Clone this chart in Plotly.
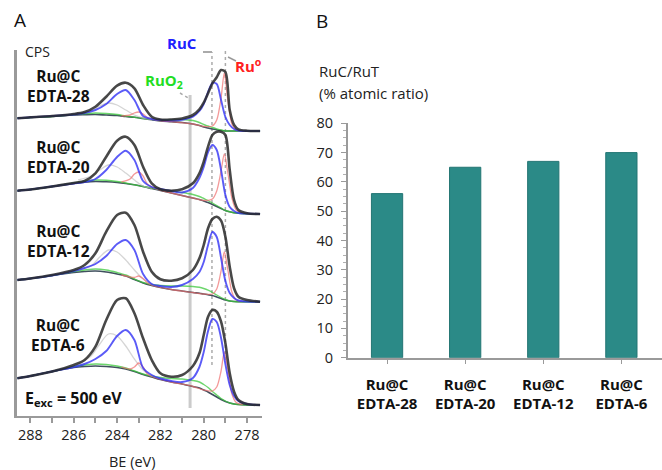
import plotly.graph_objects as go

W, H = 662, 470

# ---------------- Panel B data ----------------
samples = ["Ru@C<br>EDTA-28", "Ru@C<br>EDTA-20", "Ru@C<br>EDTA-12", "Ru@C<br>EDTA-6"]
ruc_ratio = [56, 65, 67, 70]
b_ticks = [0, 10, 20, 30, 40, 50, 60, 70, 80]

# ---------------- Panel A data (binding energy grid, eV) ----------------
be = [288.6, 288, 287, 286, 285.5, 285, 284.5, 284, 283.6, 283.2, 282.8, 282.4, 282,
      281.5, 281, 280.5, 280.2, 280, 279.8, 279.6, 279.4, 279.2, 279.0, 278.8, 278.6,
      278.4, 278, 277.4]
be_red = [283.8, 283.4, 283.2, 283.0, 282.8, 282.6, 282.2, 281.5, 280.5, 280.0, 279.6,
          279.4, 279.2, 279.05, 278.9, 278.7, 278.5, 278.2]
be_gray = [285.8, 285.2, 284.8, 284.4, 284.0, 283.6, 283.2, 282.8, 282.4]

# EDTA-28 (top)
black_28 = [297.7, 298.7, 300, 302, 304, 309.3, 319.3, 330.3, 333.3, 327.7, 311, 299.3, 296.5,
            296.5, 297.5, 301, 306.7, 313.3, 322.7, 332.7, 338.7, 346, 344, 306, 291, 286.7, 285.3, 285]
blue_28 = [297.7, 298.7, 300, 301.5, 303, 306, 312, 322, 326, 316, 300, 297, 296, 295.5, 296.3,
           299.3, 305, 312, 324, 333, 332, 316, 299, 291, 287, 285.5, 285, 285]
bg_28 = [297.7, 298.5, 299.5, 301, 301.3, 301.5, 301, 300.5, 299.5, 298.7, 297.5, 296.3, 295,
         294.3, 293.5, 292, 290.5, 289, 288, 287, 286.2, 285.5, 285, 285, 285, 285, 285, 285]
green_28 = [297.7, 298.5, 299.5, 301.5, 302.3, 303, 302.5, 301.5, 300, 298.7, 297.5, 296.8, 296,
            296.3, 296.5, 295.5, 293.5, 291.5, 290, 288.5, 287.2, 286, 285, 285, 285, 285, 285, 285]
red_28 = [300, 301, 303, 304, 302, 298.5, 296, 294.3, 292, 289.5, 290, 296, 318, 343, 318, 292, 286, 285]
gray_28 = [302, 305, 310, 313, 311, 306, 301, 298, 296.5]

# EDTA-20
black_20 = [225.3, 226.5, 229.5, 233, 235, 242.7, 259.3, 275.3, 279.3, 271, 249.3, 232.7, 226.7,
            225.3, 226.7, 232.7, 242.7, 254.3, 269.3, 281, 284.3, 284.3, 281, 246, 216, 206, 202.7, 202]
blue_20 = [225.3, 226.5, 229.5, 232.5, 234, 237, 246, 259, 265.3, 256, 235, 229, 227, 225, 223.5,
           228, 238, 249, 264, 271, 266, 246, 221, 209, 205, 203, 202.5, 202]
bg_20 = [225.3, 226.5, 229.5, 232.5, 233.8, 234.5, 234.2, 233.5, 232.5, 231.2, 229.5, 227.5, 225.5,
         223, 220.5, 218, 216.5, 215, 213.5, 211.5, 209.5, 207.5, 205.5, 204.2, 203.3, 202.7, 202.2, 202]
green_20 = [225.3, 226.5, 229.5, 233, 234.8, 236, 235.7, 234.5, 233, 231.2, 229.5, 228, 226.5,
            225, 223.5, 221.5, 219.5, 217.5, 215.5, 213, 210.5, 208, 205.5, 204.2, 203.3, 202.7, 202.2, 202]
red_20 = [234, 237, 242, 244, 240, 232, 227, 223, 218, 215.5, 217, 225, 245, 262, 245, 218, 206, 203]
gray_20 = [236, 240, 246, 251, 249, 243, 236, 230, 227.5]

# EDTA-12
black_12 = [136, 137.5, 141, 146, 151, 162.7, 184.3, 201, 203.3, 191, 164.3, 144.3, 136.7, 135.3,
            137.7, 146, 157.7, 171, 187.7, 197, 199.3, 195.3, 179.3, 149.3, 127.7, 119.3, 116, 114.3]
blue_12 = [136, 137.5, 140.5, 145, 148, 152, 160, 172, 176, 166, 142, 132, 130, 129, 131, 137, 144,
           154, 171, 184, 179, 158, 135, 123, 118, 115.5, 114.5, 114.3]
bg_12 = [136, 137.5, 140.5, 143.5, 144.5, 145, 144, 142, 140, 136.5, 133, 130.5, 128.5, 126.5, 125,
         123.5, 122.7, 122, 121.3, 120.5, 119, 117.5, 116, 115, 114.5, 114.3, 114.3, 114.3]
green_12 = [136, 137.5, 140.5, 144.5, 146, 147, 146, 143.5, 141, 137, 133.5, 131.5, 130.5, 130, 130,
            129.5, 128.7, 127.5, 125.8, 123.5, 121, 118.5, 116.5, 115, 114.5, 114.3, 114.3, 114.3]
red_12 = [141, 139, 138.5, 140, 137.5, 133, 129.5, 126.5, 123.5, 122, 122, 127, 145, 164, 148, 124, 116, 114.5]
gray_12 = [146, 150, 159, 166, 164, 156, 146, 137, 132]

# EDTA-6 (bottom)
black_6 = [37.7, 40, 44.5, 51, 56, 69.3, 96, 116, 117.7, 102.7, 77.7, 56, 42.7, 39.3, 41, 50, 62.7,
           81, 99.3, 106, 104.3, 94.3, 72.7, 42.7, 24.3, 16, 12, 11]
blue_6 = [37.7, 40, 44.5, 49, 52, 57, 65, 80, 86, 76, 48, 41, 37.5, 35, 34, 38, 49, 64, 85, 97, 94,
          78, 52, 31, 20, 15, 12, 11]
bg_6 = [37.7, 40, 44.5, 48.5, 49.5, 50, 49.5, 48.5, 47, 44.5, 41.5, 39, 36.5, 34, 32, 29.5, 28, 26,
        24, 21.5, 19, 16.5, 14.5, 13, 12, 11.5, 11, 11]
green_6 = [37.7, 40, 44.5, 49.5, 51, 52, 51.5, 50, 48, 45, 42, 40, 38.5, 37.5, 37, 35.5, 34, 31.5,
           28.5, 24.5, 21, 17.5, 15, 13, 12, 11.5, 11, 11]
red_6 = [49, 47, 49, 53, 49, 42, 38, 34, 29.5, 26, 25, 29, 45, 64, 48, 22, 13.5, 11.5]
gray_6 = [52, 60, 72, 82, 80, 70, 57, 46, 40]

spectra = [
    (black_28, blue_28, bg_28, green_28, red_28, gray_28),
    (black_20, blue_20, bg_20, green_20, red_20, gray_20),
    (black_12, blue_12, bg_12, green_12, red_12, gray_12),
    (black_6, blue_6, bg_6, green_6, red_6, gray_6),
]
spectrum_names = ["Ru@C<br>EDTA-28", "Ru@C<br>EDTA-20", "Ru@C<br>EDTA-12", "Ru@C<br>EDTA-6"]
a_ticks = [288, 286, 284, 282, 280, 278]
ref_be = {"RuO2": 280.63, "RuC": 279.62, "Ru0": 279.0}

FONT = "Open Sans"

fig = go.Figure()

def px2x(px):
    return px / W

def py2y(py):
    return 1 - py / H

# Spectra traces
for black, blue, bg, green, red, gray in spectra:
    common = dict(xaxis="x", yaxis="y", mode="lines", showlegend=False, hoverinfo="skip")
    fig.add_trace(go.Scatter(x=be, y=bg, line=dict(color="#40505e", width=1.6, shape="spline", smoothing=0.8), **common))
    fig.add_trace(go.Scatter(x=be, y=green, line=dict(color="rgba(60,200,60,0.75)", width=1.4, shape="spline", smoothing=0.8), **common))
    fig.add_trace(go.Scatter(x=be_gray, y=gray, line=dict(color="rgba(185,185,185,0.6)", width=1.3, shape="spline", smoothing=0.8), **common))
    fig.add_trace(go.Scatter(x=be_red, y=red, line=dict(color="rgba(240,110,110,0.7)", width=1.3, shape="spline", smoothing=0.8), **common))
    fig.add_trace(go.Scatter(x=be, y=blue, line=dict(color="rgba(50,50,245,0.8)", width=1.9, shape="spline", smoothing=0.8), **common))
    fig.add_trace(go.Scatter(x=be, y=black, line=dict(color="rgba(40,40,40,0.85)", width=2.6, shape="spline", smoothing=0.8), **common))

# Bars
fig.add_trace(go.Bar(x=samples, y=ruc_ratio, xaxis="x2", yaxis="y2", width=0.4,
                     marker=dict(color="#2b8a87", line=dict(color="#237573", width=1)),
                     showlegend=False, hoverinfo="skip"))

# Reference lines in panel A
shapes = [
    dict(type="line", xref="x", yref="y", x0=ref_be["RuO2"], x1=ref_be["RuO2"], y0=8, y1=321,
         line=dict(color="rgba(190,190,190,0.8)", width=3), layer="below"),
    dict(type="line", xref="x", yref="y", x0=ref_be["RuC"], x1=ref_be["RuC"], y0=51, y1=364,
         line=dict(color="rgba(150,150,150,0.8)", width=1.5, dash="dot"), layer="below"),
    dict(type="line", xref="x", yref="y", x0=ref_be["Ru0"], x1=ref_be["Ru0"], y0=56, y1=373,
         line=dict(color="rgba(150,150,150,0.8)", width=1.5, dash="dot"), layer="below"),
    # callout leaders (pixel coords -> paper)
    dict(type="line", xref="paper", yref="paper", x0=px2x(203), x1=px2x(212), y0=py2y(52), y1=py2y(52),
         line=dict(color="#aaaaaa", width=2)),
    dict(type="line", xref="paper", yref="paper", x0=px2x(228), x1=px2x(236), y0=py2y(57), y1=py2y(61),
         line=dict(color="#999999", width=1.5)),
    dict(type="line", xref="paper", yref="paper", x0=px2x(180), x1=px2x(190), y0=py2y(93), y1=py2y(99),
         line=dict(color="#aaaaaa", width=1.5, dash="dot")),
]

annotations = [
    dict(text="A", x=px2x(12), y=py2y(20), font=dict(size=19, color="#111")),
    dict(text="B", x=px2x(314), y=py2y(21), font=dict(size=19, color="#111")),
    dict(text="CPS", x=px2x(23), y=py2y(52), font=dict(size=14, color="#222")),
    dict(text="<b>RuC</b>", x=px2x(165), y=py2y(43), font=dict(size=15, color="#2020ff")),
    dict(text="<b>Ru<sup>o</sup></b>", x=px2x(233), y=py2y(65), font=dict(size=15, color="#ff2020")),
    dict(text="<b>RuO<sub>2</sub></b>", x=px2x(143), y=py2y(81), font=dict(size=15, color="#22dd22")),
    dict(text="<b>E<sub>exc</sub> = 500 eV</b>", x=px2x(23), y=py2y(398), font=dict(size=16, color="#111")),
    dict(text="BE (eV)", x=px2x(107), y=py2y(461), font=dict(size=14.5, color="#222")),
    dict(text="RuC/RuT", x=px2x(317), y=py2y(71), font=dict(size=15, color="#222")),
    dict(text="(% atomic ratio)", x=px2x(317), y=py2y(93), font=dict(size=15, color="#222")),
]
label_y = [86, 157, 241, 335]
for name, ly in zip(spectrum_names, label_y):
    annotations.append(dict(text="<b>" + name + "</b>", x=px2x(58), y=py2y(ly), xanchor="center",
                            font=dict(size=15.5, color="#111"), align="center"))
for a in annotations:
    a.setdefault("xanchor", "left")
    a.update(xref="paper", yref="paper", yanchor="middle", showarrow=False)
    a["font"]["family"] = FONT

axis_gray = "#9a9a9a"
fig.update_layout(
    width=W, height=H, margin=dict(l=0, r=0, t=0, b=0, autoexpand=False),
    paper_bgcolor="white", plot_bgcolor="white",
    font=dict(family=FONT, size=14, color="#222"),
    xaxis=dict(domain=[px2x(17), px2x(262)], range=[288.62, 277.31], showgrid=False, zeroline=False,
               automargin=False,
               tickmode="array", tickvals=a_ticks, ticks="outside", ticklen=5, tickcolor=axis_gray,
               tickwidth=1.5, showline=True, linecolor=axis_gray, linewidth=2, ticklabelstandoff=0,
               minor=dict(dtick=1, ticks="outside", ticklen=5, tickcolor=axis_gray, tickwidth=1.5),
               tickfont=dict(size=14.5, family=FONT, color="#222")),
    yaxis=dict(domain=[py2y(416), py2y(50)], range=[0, 366], showgrid=False, zeroline=False,
               automargin=False,
               showticklabels=False, ticks="", showline=True, linecolor=axis_gray, linewidth=3),
    xaxis2=dict(domain=[px2x(348), 1.0], range=[-0.5, 3.52], anchor="y2", showgrid=False, zeroline=False,
                automargin=False,
                ticks="outside", ticklen=4, tickcolor=axis_gray, showline=True, linecolor=axis_gray, linewidth=2,
                ticklabelstandoff=8, tickmode="array", tickvals=samples,
                ticktext=["<b>" + s + "</b>" for s in samples],
                tickfont=dict(size=15, family=FONT, color="#111")),
    yaxis2=dict(domain=[py2y(357.7), py2y(123.3)], range=[0, 80], anchor="x2", showgrid=False, zeroline=False,
                automargin=False,
                tickmode="array", tickvals=b_ticks, ticks="outside", ticklen=5, tickcolor=axis_gray,
                showline=True, linecolor=axis_gray, linewidth=2, ticklabelstandoff=5,
                minor=dict(dtick=2.5, ticks="outside", ticklen=3, tickcolor="#b0b0b0"),
                tickfont=dict(size=14.5, family=FONT, color="#222")),
    shapes=shapes, annotations=annotations,
)

fig.write_html("out.html")
